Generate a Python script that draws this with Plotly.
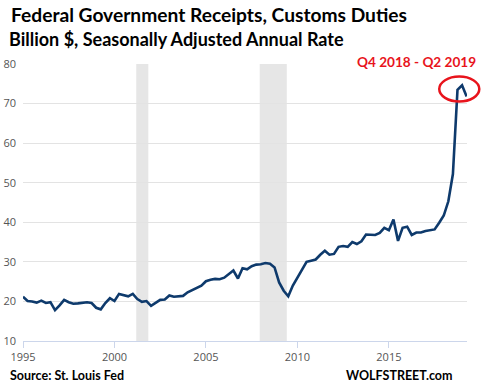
import plotly.graph_objects as go

# Quarterly values, 1995 Q1 .. 2019 Q2 (billion $, SAAR)
start_year = 1995
values = [
    21.2, 20.1, 20.0, 19.7,   # 1995
    20.2, 19.6, 19.8, 17.8,   # 1996
    19.0, 20.4, 19.8, 19.4,   # 1997
    19.5, 19.6, 19.8, 19.6,   # 1998
    18.4, 18.0, 19.6, 20.8,   # 1999
    20.1, 21.9, 21.6, 21.3,   # 2000
    21.9, 20.6, 19.9, 20.1,   # 2001
    18.9, 19.6, 20.4, 20.5,   # 2002
    21.5, 21.2, 21.3, 21.4,   # 2003
    22.3, 22.9, 23.4, 24.0,   # 2004
    25.1, 25.5, 25.7, 25.6,   # 2005
    26.0, 26.8, 27.8, 25.8,   # 2006
    28.4, 28.1, 28.9, 29.3,   # 2007
    29.4, 29.7, 29.5, 28.6,   # 2008
    24.8, 22.7, 21.3, 24.0,   # 2009
    26.0, 28.0, 30.0, 30.3,   # 2010
    30.6, 31.8, 32.8, 31.8,   # 2011
    32.0, 33.8, 34.0, 33.8,   # 2012
    35.0, 34.5, 35.2, 36.9,   # 2013
    36.9, 36.8, 37.3, 38.6,   # 2014
    38.0, 40.7, 35.3, 38.6,   # 2015
    38.9, 36.8, 37.4, 37.4,   # 2016
    37.8, 38.0, 38.2, 39.9,   # 2017
    41.7, 45.3, 52.2, 73.5,   # 2018
    74.6, 71.8,               # 2019
]
years = [start_year + i / 4 for i in range(len(values))]

recessions = [(2001.19, 2001.85), (2007.94, 2009.42)]
x_ticks = [1995, 2000, 2005, 2010, 2015]
y_ticks = [10, 20, 30, 40, 50, 60, 70, 80]

title = "Federal Government Receipts, Customs Duties"
subtitle = "Billion $, Seasonally Adjusted Annual Rate"
callout = "Q4 2018 - Q2 2019"
source = "Source: St. Louis Fed"
brand = "WOLFSTREET.com"

fig = go.Figure()
fig.add_trace(go.Scatter(
    x=years, y=values, mode="lines",
    line=dict(color="#0e3a6c", width=2.6),
    hoverinfo="skip", showlegend=False,
))

for x0, x1 in recessions:
    fig.add_shape(type="rect", xref="x", yref="y", x0=x0, x1=x1, y0=10, y1=80,
                  fillcolor="#e6e6e6", line=dict(width=0), layer="below")

fig.add_shape(type="circle", xref="paper", yref="paper",
              x0=0.9375, x1=1.0277, y0=0.8644, y1=0.9548,
              line=dict(color="#e8141c", width=2.5))

bold = "Lato"
fig.add_annotation(text=f"<b>{title}</b>", xref="paper", yref="paper",
                   x=-0.032, y=1.179, xanchor="left", yanchor="middle",
                   showarrow=False, font=dict(family=bold, size=19.2, color="#000"))
fig.add_annotation(text=f"<b>{subtitle}</b>", xref="paper", yref="paper",
                   x=-0.036, y=1.089, xanchor="left", yanchor="middle",
                   showarrow=False, font=dict(family=bold, size=18, color="#000"))
fig.add_annotation(text=f"<b>{callout}</b>", xref="paper", yref="paper",
                   x=1.0255, y=1.008, xanchor="right", yanchor="middle",
                   showarrow=False, font=dict(family=bold, size=13.6, color="#e8141c"))
fig.add_annotation(text=f"<b>{source}</b>", xref="paper", yref="paper",
                   x=-0.034, y=-0.123, xanchor="left", yanchor="middle",
                   showarrow=False, font=dict(family=bold, size=12.5, color="#000"))
fig.add_annotation(text=f"<b>{brand}</b>", xref="paper", yref="paper",
                   x=0.9735, y=-0.123, xanchor="right", yanchor="middle",
                   showarrow=False, font=dict(family=bold, size=12.5, color="#000"))

fig.update_layout(
    width=486, height=392,
    margin=dict(l=23, r=19, t=64, b=51, autoexpand=False),
    paper_bgcolor="white", plot_bgcolor="white",
    font=dict(family="Open Sans", size=11, color="#555"),
    xaxis=dict(range=[1995, 2019.27], tickvals=x_ticks,
               ticktext=[str(v) for v in x_ticks],
               showgrid=False, zeroline=False,
               showline=True, linecolor="#ccd6eb", linewidth=1,
               ticks="outside", ticklen=6, tickcolor="#ccd6eb"),
    yaxis=dict(range=[10, 80], tickvals=y_ticks,
               showgrid=True, gridcolor="#e3e3e3", gridwidth=1,
               zeroline=False, showline=False, ticks="", ticklabelstandoff=6),
)

fig.write_html(
    "out.html",
    config={"displayModeBar": False, "staticPlot": True},
    post_script="document.body.style.margin='0';document.body.style.overflow='hidden';",
)
